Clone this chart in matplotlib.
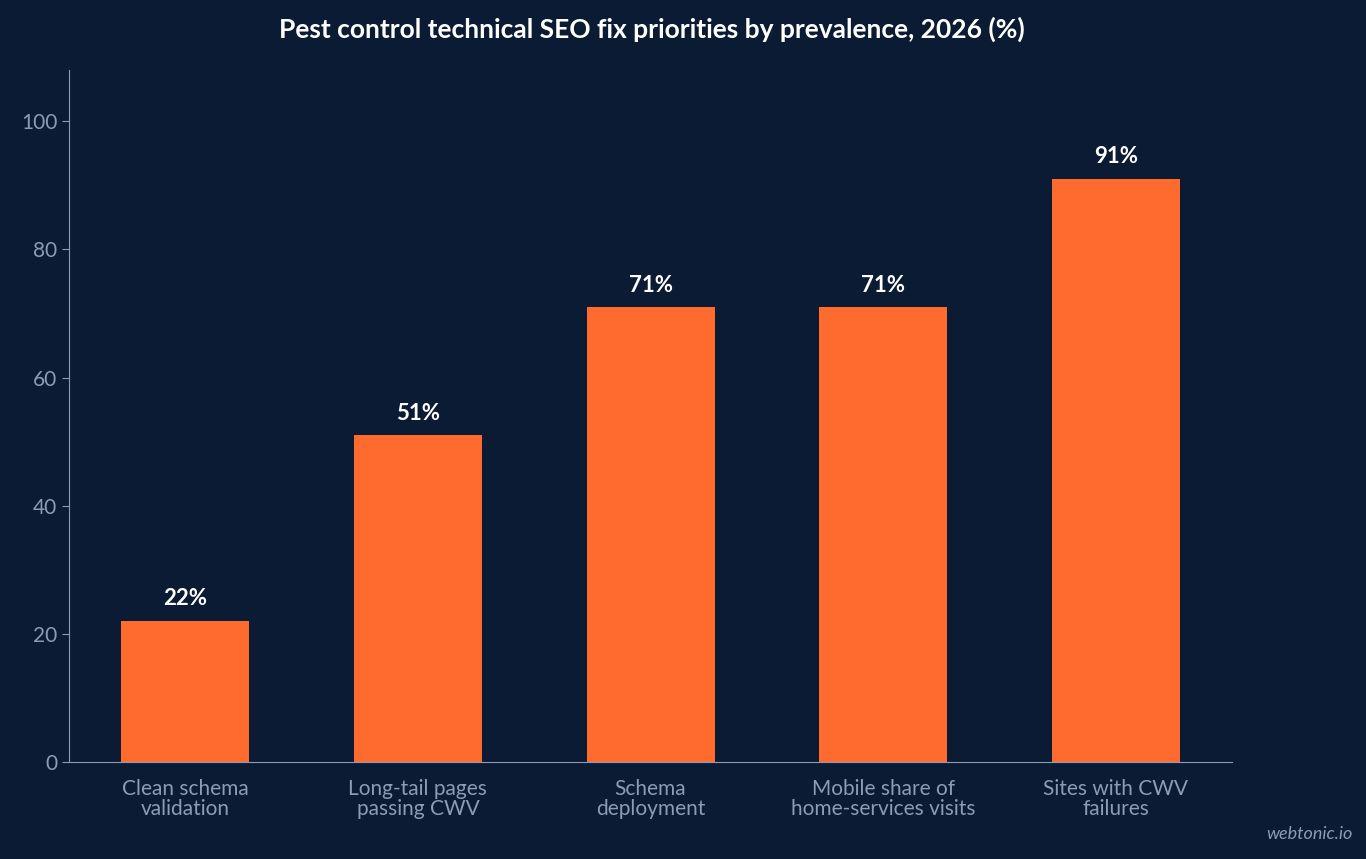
import matplotlib.pyplot as plt

categories = ["Clean schema\nvalidation", "Long-tail pages\npassing CWV", "Schema\ndeployment",
              "Mobile share of\nhome-services visits", "Sites with CWV\nfailures"]
values = [22, 51, 71, 71, 91]

bg = "#0b1b34"
bar_color = "#ff6b2f"
tick_color = "#8d9bb3"

plt.rcParams['font.family'] = ['Lato', 'DejaVu Sans']

fig = plt.figure(figsize=(13.66, 8.59), dpi=100, facecolor=bg)
ax = fig.add_axes([0.0505, 0.113, 0.8515, 0.8055])
ax.set_facecolor(bg)

x = range(len(categories))
ax.bar(x, values, width=0.55, color=bar_color, zorder=2)
for i, v in zip(x, values):
    ax.text(i, v + 1.8, "%d%%" % v, ha='center', va='bottom', color='white',
            fontsize=16, fontweight='bold')

ax.set_xlim(-0.5, 4.5)
ax.set_ylim(0, 108)
ax.set_yticks([0, 20, 40, 60, 80, 100])
ax.set_xticks(list(x))
ax.set_xticklabels(categories, linespacing=1.0)
ax.tick_params(colors=tick_color, labelsize=15, length=5)
ax.tick_params(axis='x', length=0, pad=12)
for s in ['top', 'right']:
    ax.spines[s].set_visible(False)
for s in ['left', 'bottom']:
    ax.spines[s].set_color(tick_color)

fig.text(0.477, 0.966, "Pest control technical SEO fix priorities by prevalence, 2026 (%)",
         ha='center', va='center', color='white', fontsize=19, fontweight='bold')
fig.text(0.99, 0.02, "webtonic.io", ha='right', va='bottom', color=tick_color,
         fontsize=13, style='italic')

fig.savefig("out.png", dpi=100, facecolor=bg)
